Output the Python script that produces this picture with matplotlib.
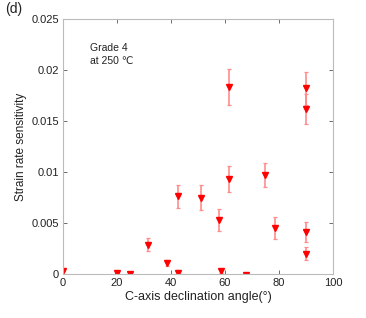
import matplotlib
matplotlib.use("Agg")
import matplotlib.pyplot as plt

plt.rcParams['font.family'] = ['Liberation Sans', 'DejaVu Sans']

angles = [0, 20, 24.7, 31.6, 38.6, 42.7, 42.7, 51, 57.9, 58.4, 61.6, 61.6, 67.8, 74.8, 78.5, 90, 90, 90, 90]
srs = [0.0003, 0.0001, 0.0, 0.0029, 0.0011, 0.00765, 0.0001, 0.0075, 0.0053, 0.0003, 0.0093, 0.01835,
       -0.0001, 0.0097, 0.0045, 0.0041, 0.0020, 0.0182, 0.0162]
errs = [0.0, 0.0, 0.0, 0.0006, 0.0003, 0.00113, 0.0003, 0.0012, 0.0011, 0.0002, 0.00125, 0.00175,
        0.0, 0.0012, 0.00105, 0.001, 0.00065, 0.0016, 0.0015]

xticks = [0, 20, 40, 60, 80, 100]
yticks = [0, 0.005, 0.01, 0.015, 0.02, 0.025]
ytick_labels = ['0', '0.005', '0.01', '0.015', '0.02', '0.025']

fig = plt.figure(figsize=(3.66, 3.18), dpi=100)
ax = fig.add_axes([0.172, 0.138, 0.738, 0.802])

ax.errorbar(angles, srs, yerr=errs, fmt='none', ecolor=(1, 0.55, 0.55), elinewidth=1.2,
            capsize=1.6, capthick=0.9)
ax.plot(angles, srs, linestyle='none', marker='v', color='red', markersize=5)

ax.set_xlim(0, 100)
ax.set_ylim(0, 0.025)
ax.set_xticks(xticks)
ax.set_yticks(yticks)
ax.set_yticklabels(ytick_labels)
ax.tick_params(direction='in', top=True, right=True, length=3, width=0.6, color='#555555',
               labelsize=8, labelcolor='#222222', pad=3)
for s in ax.spines.values():
    s.set_color('#bbbbbb')
    s.set_linewidth(0.8)

ax.set_xlabel('C-axis declination angle(°)', fontsize=9, color='#222222', labelpad=2)
ax.set_ylabel('Strain rate sensitivity', fontsize=8.5, color='#222222', labelpad=3)

ax.text(0.1, 0.905, 'Grade 4\nat 250 ℃', transform=ax.transAxes, fontsize=7.5,
        color='#222222', va='top', ha='left', linespacing=1.3)
fig.text(0.014, 0.993, '(d)', fontsize=10, color='#222222', va='top', ha='left')

fig.savefig('out.png', dpi=100)
